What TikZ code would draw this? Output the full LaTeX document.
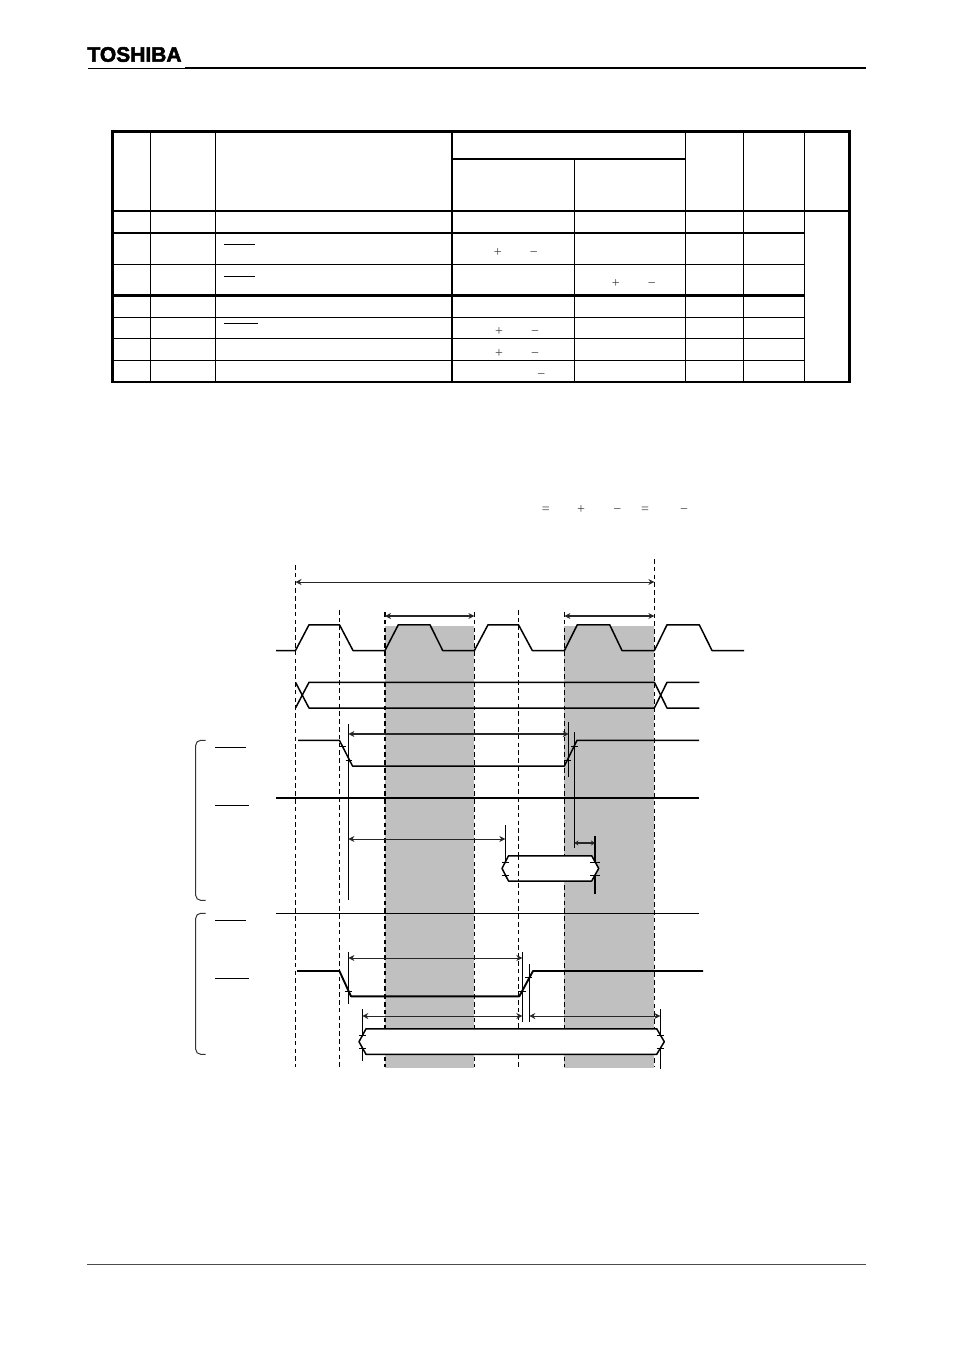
\documentclass[tikz,border=0pt]{standalone}
\usepackage{fontspec}
\setmainfont{Liberation Serif}
\newfontfamily\logofont[FakeBold=2.5]{Liberation Sans Bold}
\usetikzlibrary{arrows.meta}
\definecolor{windowgray}{HTML}{C0C0C0}
\tikzset{
  sym/.style={inner sep=0pt,yshift=-1.6pt,text=black!75,text height=7pt,text depth=0pt,font=\fontsize{14}{14}\selectfont},
  tb/.style={line width=2.6pt,line cap=butt},
  tm/.style={line width=2.2pt},
  tt/.style={line width=1pt},
  dline/.style={dash pattern=on 4.6pt off 3.2pt,line width=.9pt},
  dlineb/.style={dash pattern=on 4.6pt off 3.2pt,line width=1.5pt},
  sig/.style={line width=1.5pt,line join=round},
  sigb/.style={line width=1.9pt,line join=round},
  bar/.style={line width=.9pt},
  tick/.style={line width=.8pt},
  dim/.style={line width=.9pt,{Stealth[length=6pt,width=6pt]}-{Stealth[length=6pt,width=6pt]},black!85},
  dimb/.style={line width=1.5pt,{Stealth[length=6pt,width=6pt]}-{Stealth[length=6pt,width=6pt]},black!85},
  brace/.style={line width=1pt,rounded corners=5pt,black!80},
  over/.style={line width=.9pt},
}
\begin{document}
\begin{tikzpicture}[x=1pt,y=-1pt]
\useasboundingbox (0,0) rectangle (954,1350);
\fill[white] (0,0) rectangle (954,1350);
% header and footer
\node[inner sep=0pt,anchor=center,font=\logofont\fontsize{21}{21}\selectfont] (logo) at (134.5,54.5) {TOSHIBA};
\draw[line width=.8pt] (88,68.4) -- (185,68.4);
\draw[line width=1.2pt] (185,67.9) -- (866,67.9);
\draw[line width=.8pt,black!70] (87,1264.5) -- (866,1264.5);
% table
\foreach \x in {150.5,215.5,685.5,743.5,804.5} \draw[tt] (\x,131.5) -- (\x,382);
\draw[tt] (574.5,159) -- (574.5,382);
\draw[tm] (452,131.5) -- (452,382);
\draw[tm] (452,159) -- (685.5,159);
\draw[tm] (112.5,210.7) -- (849.2,210.7);
\draw[tm] (112.5,233) -- (804.5,233);
\draw[tm] (112.5,295.5) -- (804.5,295.5);
\foreach \y in {264,317,338.3,360} \draw[tt] (112.5,\y) -- (804.5,\y);
\fill[white] (805.2,212) rectangle (847.8,380.6);
\draw[tb] (112.5,131.5) rectangle (849.2,382);
\draw[over] (224,244) -- (255,244);
\draw[over] (224,276) -- (255,276);
\draw[over] (224,323) -- (258,323);
\node[sym] (p1) at (497.7,251.3) {+};
\node[sym] (m1) at (533.7,251.3) {−};
\node[sym] (p2) at (615.7,282.7) {+};
\node[sym] (m2) at (651.7,282.7) {−};
\node[sym] (p3) at (499,330.3) {+};
\node[sym] (m3) at (535,330.3) {−};
\node[sym] (p4) at (499,352.3) {+};
\node[sym] (m4) at (535,352.3) {−};
\node[sym] (m5) at (541.3,373.3) {−};
% formula
\node[sym] (e1) at (545.7,508.7) {=};
\node[sym] (p5) at (581,508.7) {+};
\node[sym] (m6) at (617.3,508.7) {−};
\node[sym] (e2) at (645,508.7) {=};
\node[sym] (m7) at (684,508.7) {−};
% shaded windows
\fill[windowgray] (385,626) rectangle (474.4,1067.5);
\fill[windowgray] (564.4,626) rectangle (654.4,1067.5);
% dashed verticals
\draw[dline] (295.5,565) -- (295.5,1067);
\draw[dline] (339.3,610) -- (339.3,1067);
\draw[dlineb] (385,612) -- (385,1067);
\draw[dline] (474.4,612) -- (474.4,1067);
\draw[dline] (518.5,610) -- (518.5,1067);
\draw[dline] (564.4,612) -- (564.4,1067);
\draw[dline] (654.4,559) -- (654.4,1067);
% time arrows
\draw[dim] (295.5,582) -- (654.4,582);
\draw[dimb] (385,616) -- (474.4,616);
\draw[dimb] (564.4,616) -- (654.4,616);
% clock
\draw[sig] (276,650.5) -- (295.5,650.5) -- (309,624.8) -- (339.5,624.8) -- (353,650.5) -- (385,650.5)
 -- (398.3,624.8) -- (430,624.8) -- (442.7,650.5) -- (474.4,650.5) -- (488,624.8) -- (518.5,624.8)
 -- (532.3,650.5) -- (564.4,650.5) -- (577.3,624.8) -- (609.7,624.8) -- (622,650.5) -- (654.4,650.5)
 -- (667,624.8) -- (699.3,624.8) -- (712,650.5) -- (744,650.5);
% bus
\draw[sig] (295.5,682.3) -- (309,708) -- (654.4,708) -- (667,682.3) -- (699.3,682.3);
\draw[sig] (295.5,708) -- (309,682.3) -- (654.4,682.3) -- (667,708) -- (699.3,708);
% first group
\draw[brace] (205.7,740.3) -- (195.7,740.3) -- (195.7,900.3) -- (205.7,900.3);
\draw[over] (215,747.3) -- (246,747.3);
\draw[over] (215,805) -- (248.7,805);
\draw[sig] (298,740.3) -- (339.4,740.3) -- (352.5,766) -- (564.4,766) -- (577,740.3) -- (699,740.3);
\draw[sigb] (276,797.8) -- (699,797.8);
\draw[bar] (348.4,724) -- (348.4,900);
\draw[bar] (568.7,722) -- (568.7,776.7);
\draw[bar] (574.4,732) -- (574.4,848);
\draw[bar] (505.3,825) -- (505.3,877);
\draw[line width=1.7pt] (595,836) -- (595,894);
\draw[dimb,line width=1.3pt] (348.4,734) -- (568.7,734);
\draw[dim] (348.4,839) -- (505.3,839);
\draw[dimb,line width=1.2pt,{Stealth[length=4pt,width=5pt]}-{Stealth[length=4pt,width=5pt]}] (574.4,843) -- (595,843);
\foreach \a/\b/\y in {340/346/746.5,345.5/352/760,565/571/760,571/578/746.5}
  \draw[tick] (\a,\y) -- (\b,\y);
\draw[sig,fill=white] (508.5,855.8) -- (591.7,855.8) -- (598.7,868.4) -- (591.7,881) -- (508.5,881) -- (502,868.4) -- cycle;
\draw[dline] (518.5,855.8) -- (518.5,881);
\foreach \a/\b/\y in {501.7/509/862.7,501.7/509/875,590/600/862.7,590/600/875}
  \draw[tick] (\a,\y) -- (\b,\y);
% second group
\draw[brace] (205.7,913.3) -- (195.7,913.3) -- (195.7,1054.3) -- (205.7,1054.3);
\draw[over] (215,920.3) -- (246,920.3);
\draw[over] (215,978.3) -- (248.7,978.3);
\draw[line width=1pt] (276,913.3) -- (699,913.3);
\draw[sigb] (297,971) -- (339.4,971) -- (351,996.3) -- (519.3,996.3) -- (533,971) -- (703,971);
\draw[bar] (348.4,951.7) -- (348.4,1003.7);
\draw[bar] (522.3,951.7) -- (522.3,1022.3);
\draw[bar] (529.3,964.3) -- (529.3,1022.3);
\draw[bar] (362.3,1009) -- (362.3,1060.7);
\draw[bar] (660.3,1009) -- (660.3,1068.7);
\draw[dim] (348.4,958) -- (522.3,958);
\draw[dim] (362.3,1016) -- (522.3,1016);
\draw[dim] (529.3,1016) -- (660.3,1016);
\foreach \a/\b/\y in {345/352/991,518/526/991,525/532/977.3}
  \draw[tick] (\a,\y) -- (\b,\y);
\draw[sig,fill=white] (366,1028.8) -- (656.7,1028.8) -- (664.3,1041.7) -- (656.7,1054.3) -- (366,1054.3) -- (359,1041.7) -- cycle;
\foreach \a/\b/\y in {359/366/1035,359/366/1048,656.7/664/1035,656.7/664/1048}
  \draw[tick] (\a,\y) -- (\b,\y);
\end{tikzpicture}
\end{document}
